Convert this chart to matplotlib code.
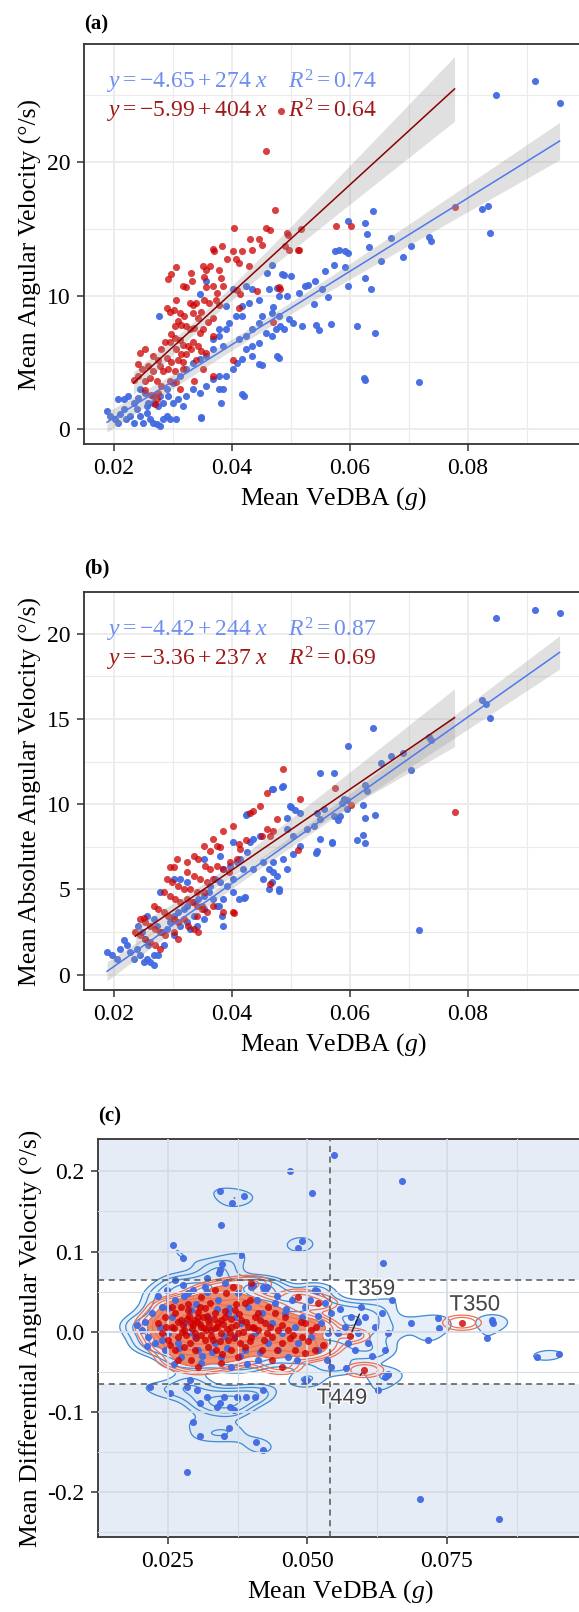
import numpy as np
import matplotlib
matplotlib.use("Agg")
import matplotlib.pyplot as plt
from matplotlib.ticker import MultipleLocator, FormatStrFormatter
import matplotlib.patheffects as pe

plt.rcParams['font.family'] = ['Liberation Serif', 'DejaVu Serif']
plt.rcParams['mathtext.fontset'] = 'custom'
plt.rcParams['mathtext.rm'] = 'Liberation Serif'
plt.rcParams['mathtext.it'] = 'Liberation Serif:italic'
plt.rcParams['mathtext.bf'] = 'Liberation Serif:bold'
plt.rcParams['axes.unicode_minus'] = False

# ---------------- data ----------------
# panel (a): mean VeDBA vs mean angular velocity
blue_a = [
    (0.0189, 1.37), (0.0194, 1.0), (0.0203, 0.75), (0.0208, 0.5), (0.0211, 1.12), (0.0217, 1.49),
    (0.0222, 0.75), (0.0228, 1.0), (0.0234, 0.5), (0.0239, 1.49), (0.0245, 1.0), (0.025, 0.5),
    (0.0256, 1.24), (0.0262, 0.75), (0.0267, 0.5), (0.0273, 0.37), (0.0278, 0.25), (0.0284, 0.75),
    (0.029, 1.0), (0.0295, 0.75), (0.0306, 0.75), (0.0208, 2.24), (0.0217, 2.24), (0.0225, 2.49),
    (0.0234, 1.99), (0.0242, 2.36), (0.0245, 2.99), (0.0253, 2.74), (0.0259, 1.99), (0.0267, 2.49),
    (0.0276, 1.74), (0.0284, 1.99), (0.0292, 2.49), (0.0301, 1.99), (0.0309, 2.24), (0.0318, 1.74),
    (0.0323, 2.49), (0.0334, 2.99), (0.0346, 2.74), (0.0348, 0.92), (0.0357, 3.23), (0.0368, 3.73),
    (0.0379, 3.98), (0.0385, 2.99), (0.0382, 1.99), (0.039, 3.98), (0.0402, 4.48), (0.041, 4.98),
    (0.0418, 5.22), (0.0424, 5.97), (0.0435, 6.22), (0.0447, 6.47), (0.0458, 7.21), (0.0469, 6.97),
    (0.0475, 7.46), (0.0483, 7.71), (0.0489, 7.46), (0.0497, 8.21), (0.0505, 7.96), (0.0525, 10.7),
    (0.0514, 10.2), (0.0494, 9.95), (0.048, 9.95), (0.0463, 10.45), (0.0447, 9.7), (0.043, 9.45),
    (0.0418, 9.2), (0.0407, 8.46), (0.0396, 7.96), (0.039, 7.46), (0.0379, 6.97), (0.0385, 6.22),
    (0.0368, 5.97), (0.0357, 5.47), (0.0346, 5.22), (0.0334, 4.98), (0.0323, 4.48), (0.0312, 3.98),
    (0.0301, 3.48), (0.029, 2.99), (0.0278, 2.49), (0.0267, 1.99), (0.0256, 1.74), (0.0413, 6.72),
    (0.0424, 6.97), (0.0435, 7.46), (0.0447, 7.96), (0.0452, 8.46), (0.0469, 8.71), (0.048, 8.46),
    (0.0418, 8.46), (0.0435, 5.47), (0.0447, 4.85), (0.0477, 5.47), (0.0277, 8.5), (0.0368, 6.72),
    (0.0379, 7.46), (0.039, 9.2), (0.0402, 10.45), (0.0424, 10.7), (0.0435, 10.45), (0.046, 11.69),
    (0.0469, 12.31), (0.0489, 11.57), (0.05, 11.49), (0.0477, 10.57), (0.0418, 2.61), (0.0379, 2.99),
    (0.0346, 10.1), (0.0357, 11.07), (0.0848, 24.99), (0.0915, 26.0), (0.0956, 24.4), (0.0825, 16.5),
    (0.0834, 16.7), (0.0838, 14.7), (0.0735, 14.4), (0.0738, 14.1), (0.0704, 13.7), (0.069, 12.9),
    (0.0671, 14.3), (0.0654, 12.6), (0.064, 16.3), (0.0627, 15.4), (0.063, 14.6), (0.0598, 15.6),
    (0.0633, 13.6), (0.0627, 11.3), (0.0637, 10.5), (0.0643, 7.2), (0.0612, 7.7), (0.0625, 3.8),
    (0.0627, 3.7), (0.0717, 3.5), (0.0569, 7.9), (0.0544, 7.8), (0.0548, 7.4), (0.0519, 7.7),
    (0.054, 9.35), (0.0564, 9.9), (0.0597, 10.7), (0.0558, 11.8), (0.0575, 13.3), (0.0583, 13.4),
    (0.0592, 13.3), (0.0598, 13.2), (0.0574, 12.3), (0.0592, 12.1), (0.0485, 11.6), (0.0471, 9.15),
    (0.048, 5.3), (0.0452, 4.8), (0.0422, 2.5), (0.0349, 0.85), (0.0542, 11.1), (0.053, 10.8),
    (0.0553, 10.5),
]
red_a = [
    (0.0459, 20.8), (0.0484, 23.8), (0.0778, 16.6), (0.0474, 16.4), (0.0404, 15.05), (0.0458, 15.05),
    (0.0466, 14.9), (0.0431, 14.2), (0.0447, 14.2), (0.0451, 13.8), (0.0494, 14.7), (0.0514, 13.4),
    (0.0491, 13.7), (0.0368, 13.5), (0.0371, 13.3), (0.0384, 13.7), (0.0402, 13.3), (0.0418, 13.3),
    (0.0435, 13.4), (0.0392, 12.7), (0.0407, 12.7), (0.0413, 12.4), (0.043, 12.2), (0.0351, 12.2),
    (0.0357, 11.9), (0.0364, 12.2), (0.0379, 11.9), (0.0306, 12.1), (0.0298, 11.6), (0.0292, 11.2),
    (0.0332, 11.7), (0.0318, 10.7), (0.0323, 10.6), (0.0333, 11.1), (0.0354, 11.4), (0.0382, 11.3),
    (0.0357, 10.6), (0.0368, 10.7), (0.0376, 10.2), (0.0385, 10.7), (0.041, 10.4), (0.0414, 10.1),
    (0.0444, 10.3), (0.048, 10.6), (0.0306, 9.7), (0.0329, 9.45), (0.0334, 9.3), (0.034, 9.45),
    (0.0354, 9.7), (0.0362, 9.45), (0.0374, 9.7), (0.0379, 9.3), (0.0413, 9.1), (0.029, 9.1),
    (0.0295, 8.8), (0.0302, 8.95), (0.0312, 8.7), (0.032, 8.5), (0.0334, 8.7), (0.0343, 8.3),
    (0.0348, 8.8), (0.0368, 8.3), (0.036, 8.0), (0.0309, 8.1), (0.0315, 7.8), (0.0304, 7.7),
    (0.0323, 7.7), (0.0329, 7.5), (0.0337, 7.6), (0.0346, 7.2), (0.0351, 7.5), (0.0368, 7.0),
    (0.0298, 7.1), (0.0304, 6.8), (0.0295, 6.5), (0.0312, 6.7), (0.0318, 6.3), (0.0326, 6.2),
    (0.0334, 6.5), (0.0343, 6.2), (0.0348, 5.85), (0.0357, 5.7), (0.0287, 6.5), (0.0281, 6.0),
    (0.0306, 6.0), (0.0315, 5.6), (0.0323, 5.6), (0.0332, 6.0), (0.0245, 5.7), (0.0253, 6.0),
    (0.0267, 5.5), (0.0276, 5.2), (0.029, 5.35), (0.0298, 5.0), (0.0309, 5.2), (0.0318, 5.0),
    (0.034, 5.2), (0.0351, 4.5), (0.0402, 5.2), (0.0242, 4.85), (0.0248, 4.5), (0.0259, 4.7),
    (0.0267, 4.35), (0.0278, 4.7), (0.0284, 4.35), (0.0292, 4.5), (0.0304, 4.35), (0.0318, 4.5),
    (0.0234, 3.7), (0.0242, 4.0), (0.0253, 3.6), (0.0262, 3.85), (0.0273, 3.6), (0.0281, 3.2),
    (0.0295, 3.6), (0.0306, 3.5), (0.0312, 3.0), (0.0253, 2.9), (0.0264, 2.6), (0.0273, 2.25),
    (0.027, 1.9), (0.0276, 2.7), (0.0337, 3.6), (0.0368, 4.0), (0.047, 8.0), (0.0497, 13.4),
    (0.0513, 13.4), (0.0518, 15.0), (0.0577, 15.2), (0.0603, 15.2), (0.0483, 10.5), (0.0496, 14.5),
]

# panel (b): mean VeDBA vs mean absolute angular velocity
blue_b = [
    (0.0189, 1.33), (0.0197, 1.13), (0.0206, 0.94), (0.0211, 1.52), (0.0217, 2.01), (0.0223, 1.72),
    (0.0228, 1.33), (0.0234, 0.94), (0.024, 1.52), (0.0245, 1.13), (0.0251, 0.74), (0.0256, 0.94),
    (0.0262, 0.74), (0.0268, 1.13), (0.0259, 1.72), (0.0254, 2.11), (0.0248, 2.5), (0.0242, 2.88),
    (0.0256, 3.47), (0.0268, 3.27), (0.0273, 2.88), (0.0282, 2.5), (0.029, 2.69), (0.0296, 3.08),
    (0.0302, 3.47), (0.031, 3.66), (0.0319, 3.86), (0.0324, 4.05), (0.0336, 4.25), (0.0344, 4.44),
    (0.0353, 4.64), (0.0361, 4.83), (0.0369, 4.44), (0.0378, 4.05), (0.0384, 3.47), (0.0386, 2.88),
    (0.0353, 3.27), (0.0341, 2.88), (0.033, 2.69), (0.0324, 3.08), (0.0313, 2.88), (0.0302, 2.3),
    (0.0285, 1.72), (0.0276, 1.13), (0.0268, 0.55), (0.0353, 3.86), (0.0364, 5.22), (0.0372, 5.61),
    (0.0381, 5.42), (0.0386, 6.2), (0.0398, 6.39), (0.0409, 6.59), (0.0415, 6.78), (0.0426, 7.17),
    (0.0432, 7.76), (0.0437, 7.95), (0.0449, 8.15), (0.0454, 6.59), (0.0463, 6.2), (0.0471, 6.0),
    (0.0477, 5.81), (0.048, 5.03), (0.0468, 5.42), (0.0454, 5.61), (0.0437, 6.2), (0.042, 6.2),
    (0.0403, 5.61), (0.0392, 5.22), (0.0403, 4.83), (0.0412, 4.44), (0.0423, 4.54), (0.0386, 4.44),
    (0.0375, 4.05), (0.0336, 3.47), (0.0324, 5.42), (0.0313, 5.61), (0.0302, 5.61), (0.0279, 4.83),
    (0.0353, 6.78), (0.0381, 6.98), (0.0403, 7.76), (0.0426, 9.42), (0.0471, 10.88), (0.0488, 11.07),
    (0.0499, 9.9), (0.0494, 9.22), (0.0516, 9.51), (0.0494, 8.54), (0.0505, 8.15), (0.0516, 7.56),
    (0.0528, 8.54), (0.0539, 8.73), (0.055, 7.95), (0.057, 7.76), (0.0545, 7.27), (0.0505, 7.08),
    (0.0488, 6.78), (0.0494, 6.2), (0.0471, 6.59), (0.055, 11.85), (0.0573, 11.85), (0.0584, 9.32),
    (0.0595, 9.71), (0.059, 10.29), (0.0573, 9.32), (0.055, 9.12), (0.0556, 9.71), (0.0545, 9.51),
    (0.0848, 20.95), (0.0915, 21.4), (0.0956, 21.2), (0.0825, 16.1), (0.0831, 15.9), (0.0838, 15.06),
    (0.0735, 13.95), (0.0738, 13.75), (0.0704, 12.0), (0.069, 12.98), (0.0671, 12.84), (0.0654, 12.4),
    (0.064, 14.47), (0.0597, 13.4), (0.0627, 11.1), (0.063, 10.8), (0.0623, 9.96), (0.0643, 9.38),
    (0.0627, 9.22), (0.0623, 8.2), (0.0626, 7.72), (0.0613, 7.88), (0.057, 7.72), (0.0544, 7.14),
    (0.0463, 5.0), (0.048, 4.9), (0.0422, 4.5), (0.0717, 2.63), (0.0424, 9.38), (0.0469, 10.9),
    (0.0485, 11.0), (0.0501, 9.86), (0.0508, 9.67), (0.0581, 9.09), (0.0595, 10.25), (0.0587, 10.06),
]
red_b = [
    (0.0488, 12.09), (0.0576, 10.97), (0.046, 10.68), (0.0449, 9.9), (0.0432, 9.51), (0.0516, 10.33),
    (0.0477, 9.12), (0.046, 8.54), (0.0471, 8.44), (0.0451, 8.15), (0.0466, 8.15), (0.0403, 8.73),
    (0.0386, 8.44), (0.0369, 7.95), (0.0375, 7.56), (0.0381, 7.47), (0.0412, 7.66), (0.0415, 7.37),
    (0.0353, 7.56), (0.0364, 7.27), (0.0307, 6.78), (0.0296, 6.3), (0.0302, 6.3), (0.0324, 6.59),
    (0.0336, 6.98), (0.0344, 6.78), (0.0355, 6.39), (0.0364, 6.2), (0.0375, 6.39), (0.0386, 6.2),
    (0.0395, 6.0), (0.0398, 6.59), (0.0409, 6.78), (0.0324, 6.0), (0.0336, 5.81), (0.0347, 5.61),
    (0.0358, 5.42), (0.0369, 5.61), (0.029, 5.61), (0.0299, 5.42), (0.031, 5.22), (0.0319, 5.03),
    (0.033, 5.03), (0.0341, 4.83), (0.0353, 4.83), (0.0285, 4.83), (0.0296, 4.64), (0.0305, 4.44),
    (0.0313, 4.25), (0.0324, 4.44), (0.0333, 4.25), (0.0341, 4.05), (0.035, 3.86), (0.0358, 3.66),
    (0.0268, 4.05), (0.0276, 3.86), (0.0285, 3.66), (0.0293, 3.47), (0.0302, 3.27), (0.031, 3.08),
    (0.0319, 3.27), (0.0327, 2.88), (0.0336, 2.69), (0.0344, 2.5), (0.0245, 3.27), (0.0254, 3.08),
    (0.0262, 2.88), (0.0271, 2.69), (0.0279, 2.5), (0.0288, 2.3), (0.0237, 2.5), (0.0245, 2.3),
    (0.0254, 2.11), (0.0262, 1.91), (0.0271, 1.72), (0.0279, 1.52), (0.0302, 2.5), (0.031, 2.11),
    (0.0341, 3.47), (0.035, 4.05), (0.0386, 3.66), (0.0403, 3.66), (0.0369, 4.05), (0.0424, 7.9),
    (0.0603, 9.96), (0.0778, 9.57), (0.0513, 7.33), (0.0466, 5.3), (0.0404, 3.64), (0.0252, 3.35),
    (0.0437, 9.6),
]

# panel (c): mean VeDBA vs mean differential angular velocity
blue_c = [
    (0.0548, 0.22), (0.0469, 0.2), (0.0669, 0.188), (0.0509, 0.1726), (0.0343, 0.1755), (0.0365, 0.161),
    (0.0387, 0.169), (0.0345, 0.133), (0.0381, 0.0956), (0.0259, 0.108), (0.0277, 0.0915), (0.049, 0.1135),
    (0.0484, 0.104), (0.0636, 0.086), (0.0716, -0.0104), (0.0734, 0.0166), (0.0735, 0.004), (0.0686, 0.011),
    (0.0821, -0.0083), (0.083, 0.0145), (0.0833, 0.0104), (0.0911, -0.031), (0.095, -0.028), (0.0627, -0.073),
    (0.0645, -0.053), (0.0499, -0.06), (0.0296, -0.113), (0.0308, -0.13), (0.035, -0.13), (0.0359, -0.12),
    (0.0408, -0.137), (0.042, -0.148), (0.0284, -0.175), (0.0701, -0.209), (0.0844, -0.234),
    (0.0218, -0.0686), (0.0254, -0.077), (0.0284, -0.0686), (0.0302, -0.0728), (0.032, -0.081),
    (0.0338, -0.0936), (0.0362, -0.0936), (0.0374, -0.081), (0.0391, -0.081), (0.0406, -0.081),
    (0.0421, -0.0728), (0.029, -0.0603), (0.0308, -0.089), (0.035, -0.081), (0.0368, -0.0977),
    (0.0344, -0.0894), (0.032, 0.0665), (0.0341, 0.0728), (0.0347, 0.085), (0.0344, 0.077),
    (0.0263, 0.0645), (0.0427, 0.056), (0.0403, 0.058), (0.0421, 0.056), (0.0517, 0.0507),
    (0.0203, 0.0021), (0.0209, 0.0125), (0.0215, -0.0062), (0.0221, 0.0229), (0.0227, -0.0146),
    (0.0236, 0.0062), (0.0239, 0.0312), (0.0245, -0.0229), (0.0251, -0.0021), (0.0257, 0.0187),
    (0.0263, 0.0395), (0.0269, -0.0146), (0.0274, -0.0312), (0.028, 0.0104), (0.0286, 0.0478),
    (0.0292, 0.027), (0.0298, -0.0062), (0.0304, -0.0229), (0.031, -0.0395), (0.0316, 0.0561),
    (0.0322, 0.0187), (0.0328, 0.0021), (0.0334, -0.0146), (0.034, 0.0395), (0.0346, -0.0312),
    (0.0352, 0.0603), (0.0358, 0.0229), (0.0364, -0.0437), (0.037, -0.0062), (0.0376, 0.0478),
    (0.0382, 0.0104), (0.0388, -0.0229), (0.0394, 0.0312), (0.04, 0.0561), (0.0406, -0.0021),
    (0.0412, -0.0353), (0.0418, 0.0229), (0.0424, 0.052), (0.043, -0.0146), (0.0436, 0.0104),
    (0.0442, 0.0353), (0.0448, -0.0229), (0.0454, -0.0021), (0.046, 0.0229), (0.0466, -0.0312),
    (0.0472, 0.0395), (0.0478, 0.0062), (0.0484, -0.0146), (0.049, 0.0187), (0.0496, 0.0312),
    (0.0507, -0.0062), (0.0513, 0.052), (0.0519, -0.0229), (0.0525, 0.0104), (0.0531, 0.0353),
    (0.0537, -0.0021), (0.0543, 0.0229), (0.0555, -0.0021), (0.0567, 0.0062), (0.0573, -0.0146),
    (0.0579, 0.0187), (0.0585, -0.0229), (0.0591, -0.0021), (0.0597, 0.0312), (0.0609, -0.0146),
    (0.0621, 0.0062), (0.0633, 0.0229), (0.0639, -0.0229), (0.0645, -0.0021), (0.0651, 0.0395),
    (0.057, -0.0457), (0.0543, -0.0437), (0.0496, -0.0603), (0.0639, -0.0561),
    (0.025, 0.03), (0.027, -0.02), (0.03, 0.035), (0.033, -0.025), (0.036, 0.03), (0.028, 0.045),
    (0.032, 0.05), (0.038, -0.03), (0.041, 0.04), (0.035, -0.005), (0.029, 0.0), (0.024, -0.01),
    (0.0195, 0.008), (0.0212, -0.018), (0.0232, 0.045), (0.0248, 0.052), (0.0262, -0.04), (0.0278, 0.058),
    (0.0296, 0.052), (0.0312, -0.03), (0.0338, 0.028), (0.0356, -0.02), (0.0372, 0.018), (0.0392, -0.04),
    (0.0415, -0.025), (0.0445, 0.045), (0.0462, 0.028), (0.0482, -0.035), (0.0505, 0.04), (0.052, 0.02),
    (0.0535, -0.035), (0.0558, 0.028), (0.0603, 0.018), (0.0615, -0.03), (0.059, 0.012),
]
red_c = [
    (0.0233, 0.0104), (0.0239, -0.0021), (0.0245, 0.0187), (0.0251, -0.0104), (0.0257, 0.0062),
    (0.0263, 0.0229), (0.0269, -0.0062), (0.0274, 0.0146), (0.028, 0.0021), (0.0286, 0.027),
    (0.0289, -0.0146), (0.0292, 0.0104), (0.0298, -0.0021), (0.0304, 0.0187), (0.0307, 0.0312),
    (0.031, 0.0062), (0.0316, -0.0104), (0.0322, 0.0146), (0.0325, 0.0353), (0.0328, 0.0021),
    (0.0334, 0.0229), (0.0337, -0.0229), (0.034, 0.0104), (0.0346, -0.0021), (0.0352, 0.0187),
    (0.0355, 0.0478), (0.0358, -0.0104), (0.0364, 0.0062), (0.0367, 0.0561), (0.037, 0.027),
    (0.0376, -0.0021), (0.0382, 0.0146), (0.0388, -0.0187), (0.0394, 0.0062), (0.0397, 0.0395),
    (0.04, -0.0062), (0.0406, 0.0187), (0.0412, 0.0021), (0.0418, -0.0229), (0.0424, 0.0104),
    (0.043, 0.0312), (0.0436, -0.0062), (0.0442, 0.0229), (0.0448, 0.0021), (0.0454, -0.0146),
    (0.046, 0.0187), (0.0466, 0.0021), (0.0478, -0.0229), (0.0484, 0.0437), (0.049, -0.0062),
    (0.0496, 0.0104), (0.0507, 0.0021), (0.0513, -0.0229), (0.0519, 0.0353), (0.0304, -0.0437),
    (0.0292, -0.0353), (0.0269, -0.0353), (0.0346, -0.0395), (0.0376, -0.0312), (0.04, 0.0603),
    (0.0436, -0.0353), (0.0454, -0.0437), (0.0496, -0.027), (0.0263, -0.0229), (0.028, -0.0187),
    (0.0334, 0.052), (0.0322, -0.0187), (0.0364, -0.0229), (0.0412, 0.0229), (0.0388, 0.0353),
    (0.031, 0.0437), (0.0274, 0.0312), (0.0257, 0.0312), (0.0298, -0.0229), (0.0331, -0.0104),
    (0.0361, -0.0021), (0.0379, -0.0146), (0.0403, 0.0062), (0.0427, -0.0021), (0.0445, -0.0229),
    (0.0469, -0.0083), (0.0295, 0.008), (0.0302, 0.012), (0.0315, 0.004), (0.0285, 0.016),
    (0.032, 0.02), (0.0335, 0.005), (0.0275, 0.0), (0.031, -0.004), (0.0345, 0.015), (0.0305, 0.025),
    (0.0262, 0.004), (0.0268, 0.012), (0.0278, 0.008), (0.0283, -0.004), (0.0288, 0.02), (0.0293, 0.003),
    (0.0297, 0.015), (0.0301, -0.008), (0.0307, 0.01), (0.0313, 0.018), (0.0318, 0.002), (0.0323, 0.009),
    (0.0327, -0.006), (0.0332, 0.016), (0.0338, 0.006), (0.0343, -0.012), (0.0349, 0.01), (0.0353, 0.026),
    (0.0357, 0.003), (0.0363, 0.016), (0.0368, -0.008), (0.0373, 0.008), (0.0378, 0.022), (0.0385, 0.0),
    (0.0391, 0.012), (0.0398, -0.012), (0.0405, 0.004), (0.0415, 0.014), (0.0422, -0.01), (0.0433, 0.006),
    (0.0455, 0.008), (0.0475, -0.004), (0.0488, 0.012), (0.0502, -0.012), (0.0515, 0.006), (0.0528, -0.016),
    (0.0286, 0.035), (0.0317, 0.03), (0.0348, -0.028), (0.0372, 0.035), (0.0254, -0.016), (0.0247, 0.006),
    (0.0577, -0.005), (0.0602, -0.0478), (0.0777, 0.0112),
]

fit_a = {'blue': (-4.65, 274, 0.74), 'red': (-5.99, 404, 0.64)}
fit_b = {'blue': (-4.42, 244, 0.87), 'red': (-3.36, 237, 0.69)}

# labelled individuals in panel (c)
c_labels = ['T359', 'T350', 'T449']
c_label_pts = [(0.0577, -0.005), (0.0777, 0.0112), (0.0602, -0.0478)]
c_label_txt = [(0.0612, 0.0528), (0.0800, 0.0333), (0.0562, -0.0832)]
c_hlines = [-0.065, 0.065]
c_vline = 0.054

BLUE = '#4169E1'
RED = '#CD0000'
BLUE_TXT = '#6f8ff0'
RED_TXT = '#9e1a1a'
LINE_BLUE = '#4f78ee'
LINE_RED = '#8B0000'

fig = plt.figure(figsize=(5.79, 16.12), dpi=100)
W, H = 579.0, 1612.0


def add_ax(left, top, bottom, right=582):
    return fig.add_axes([left / W, 1 - bottom / H, (right - left) / W, (bottom - top) / H])


def style(ax, gridc='#ebebeb'):
    ax.grid(True, which='major', color=gridc, lw=1.3, zorder=0)
    ax.grid(True, which='minor', color=gridc, lw=0.8, zorder=0)
    ax.set_axisbelow(True)
    for s in ax.spines.values():
        s.set_color('#333333')
        s.set_linewidth(1.3)
    ax.tick_params(which='major', length=5, width=1.1, color='#333333', labelsize=17,
                   labelcolor='black', pad=5)
    ax.tick_params(which='minor', length=0)


def ci_band(pts, a, b, xg):
    x = np.array([p[0] for p in pts])
    y = np.array([p[1] for p in pts])
    n = len(x)
    s = np.sqrt(np.sum((y - (a + b * x)) ** 2) / (n - 2))
    xb = x.mean()
    sxx = np.sum((x - xb) ** 2)
    return 1.97 * s * np.sqrt(1.0 / n + (xg - xb) ** 2 / sxx)


def scatter_panel(ax, blue, red, fits):
    bx = [p[0] for p in blue]; by = [p[1] for p in blue]
    rx = [p[0] for p in red]; ry = [p[1] for p in red]
    ax.scatter(bx, by, s=26, color=BLUE, alpha=0.95, lw=0, zorder=2)
    ax.scatter(rx, ry, s=26, color=RED, alpha=0.75, lw=0, zorder=3)
    for key, pts, col in (('blue', blue, LINE_BLUE), ('red', red, LINE_RED)):
        a, b, r2 = fits[key]
        xs = [p[0] for p in pts]
        xg = np.linspace(min(xs), max(xs), 80)
        yl = a + b * xg
        hw = ci_band(pts, a, b, xg)
        ax.fill_between(xg, yl - hw, yl + hw, color='#999999', alpha=0.3, lw=0, zorder=4)
        ax.plot(xg, yl, color=col, lw=1.1, zorder=5)
    for i, (key, col) in enumerate((('blue', BLUE_TXT), ('red', RED_TXT))):
        a, b, r2 = fits[key]
        sa = ('-%.2f' % -a) if a < 0 else '%.2f' % a
        ax.text(0.046, 0.905 - 0.072 * i,
                r'$y = %s + %d\ x\quad\ R^2 = %.2f$' % (sa, b, r2),
                transform=ax.transAxes, color=col, fontsize=17, va='center', ha='left', zorder=6)


# ---------------- panel (a) ----------------
ax1 = add_ax(84, 44, 444)
scatter_panel(ax1, blue_a, red_a, fit_a)
ax1.set_xlim(0.0150, 0.0994)
ax1.set_ylim(-1.1, 28.8)
ax1.xaxis.set_major_locator(MultipleLocator(0.02))
ax1.xaxis.set_minor_locator(MultipleLocator(0.01))
ax1.yaxis.set_major_locator(MultipleLocator(10))
ax1.yaxis.set_minor_locator(MultipleLocator(5))
ax1.xaxis.set_major_formatter(FormatStrFormatter('%.2f'))
style(ax1)
ax1.set_xlabel('Mean VeDBA ($g$)', fontsize=18.5, labelpad=4.5)
ax1.set_ylabel('Mean Angular Velocity (°/s)', fontsize=18.5, labelpad=3)
fig.text(84 / W, 1 - 24 / H, '(a)', fontsize=15, fontweight='bold', va='center', ha='left')

# ---------------- panel (b) ----------------
ax2 = add_ax(84, 592, 990)
scatter_panel(ax2, blue_b, red_b, fit_b)
ax2.set_xlim(0.0150, 0.0994)
ax2.set_ylim(-0.9, 22.45)
ax2.xaxis.set_major_locator(MultipleLocator(0.02))
ax2.xaxis.set_minor_locator(MultipleLocator(0.01))
ax2.yaxis.set_major_locator(MultipleLocator(5))
ax2.yaxis.set_minor_locator(MultipleLocator(2.5))
ax2.xaxis.set_major_formatter(FormatStrFormatter('%.2f'))
style(ax2)
ax2.set_xlabel('Mean VeDBA ($g$)', fontsize=18.5, labelpad=4.5)
ax2.set_ylabel('Mean Absolute Angular Velocity (°/s)', fontsize=18.5, labelpad=3)
fig.text(84 / W, 1 - 568 / H, '(b)', fontsize=15, fontweight='bold', va='center', ha='left')

# ---------------- panel (c) ----------------
ax3 = add_ax(98.3, 1139.3, 1537.3)
xmin, xmax, ymin, ymax = 0.01256, 0.0992, -0.2565, 0.24
ax3.set_xlim(xmin, xmax)
ax3.set_ylim(ymin, ymax)
ax3.set_facecolor('#e5ecf6')
ax3.axhspan(c_hlines[0], c_hlines[1], color='white', lw=0, zorder=0.5)
ax3.xaxis.set_major_locator(MultipleLocator(0.025))
ax3.xaxis.set_minor_locator(MultipleLocator(0.0125))
ax3.yaxis.set_major_locator(MultipleLocator(0.1))
ax3.yaxis.set_minor_locator(MultipleLocator(0.05))
ax3.xaxis.set_major_formatter(FormatStrFormatter('%.3f'))
ax3.yaxis.set_major_formatter(FormatStrFormatter('%.1f'))
style(ax3, gridc='#d6dce5')
ax3.grid(True, which='major', color='#d6dce5', lw=1.3, zorder=0.6)
ax3.grid(True, which='minor', color='#d6dce5', lw=0.8, zorder=0.6)
ax3.set_axisbelow(False)

gx = np.linspace(xmin, xmax, 320)
gy = np.linspace(ymin, ymax, 320)
GX, GY = np.meshgrid(gx, gy)


def density(pts, bwx, bwy):
    Z = np.zeros_like(GX)
    for px, py in pts:
        Z += np.exp(-0.5 * ((GX - px) / bwx) ** 2 - 0.5 * ((GY - py) / bwy) ** 2)
    return Z


Zb = density(blue_c, 0.0028, 0.009)
Zr = density(red_c, 0.0024, 0.0065)
ax3.contourf(GX, GY, Zb, levels=[1.25, 1e6], colors=['#d3e3f5'], alpha=0.55, zorder=1)
ax3.contour(GX, GY, Zb, levels=[1.25, 2, 3, 4.5, 6.5, 9], colors='#3f8bd0', linewidths=0.9, zorder=1.2)
ax3.contourf(GX, GY, Zr, levels=[1.8, 1e6], colors=['#f08462'], alpha=0.9, zorder=1.4)
ax3.contour(GX, GY, Zr, levels=[0.35, 0.6, 1.0, 1.8, 2.8, 4, 6, 9], colors='#ef6f50', linewidths=0.9,
            zorder=1.5)

ax3.scatter([p[0] for p in blue_c], [p[1] for p in blue_c], s=26, color=BLUE, alpha=0.95, lw=0, zorder=2)
ax3.scatter([p[0] for p in red_c], [p[1] for p in red_c], s=26, color=RED, alpha=0.8, lw=0, zorder=3)

for yv in c_hlines:
    ax3.axhline(yv, color='#555555', lw=1.1, ls=(0, (4, 3)), zorder=4)
ax3.axvline(c_vline, color='#555555', lw=1.1, ls=(0, (4, 3)), zorder=4)

for lab, (px, py), (tx, ty) in zip(c_labels, c_label_pts, c_label_txt):
    arrow = None if lab == 'T350' else dict(arrowstyle='-', color='#222222', lw=1.0, shrinkA=9, shrinkB=3)
    ax3.annotate(lab, xy=(px, py), xytext=(tx, ty), textcoords='data', ha='center', va='center',
                 fontsize=16, color='#444444', family=['Liberation Sans', 'DejaVu Sans'],
                 arrowprops=arrow, zorder=6,
                 path_effects=[pe.withStroke(linewidth=2, foreground='white')])

ax3.set_xlabel('Mean VeDBA ($g$)', fontsize=18.5, labelpad=4.5)
ax3.set_ylabel('Mean Differential Angular Velocity (°/s)', fontsize=18.5, labelpad=3)
fig.text(98 / W, 1 - 1116 / H, '(c)', fontsize=15, fontweight='bold', va='center', ha='left')

fig.savefig('out.png', dpi=100)
